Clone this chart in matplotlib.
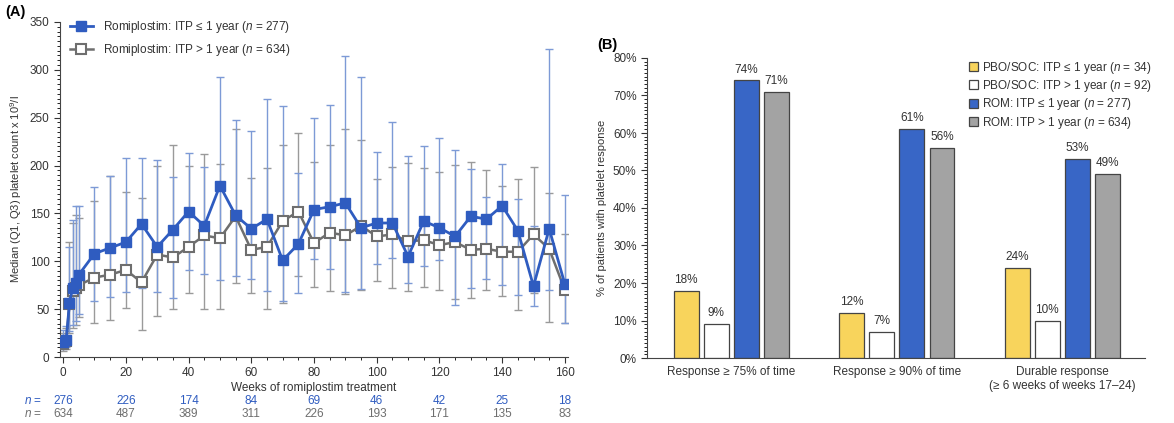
import matplotlib
matplotlib.use("Agg")
import matplotlib.pyplot as plt
import numpy as np
from matplotlib.ticker import MultipleLocator, PercentFormatter
from matplotlib.transforms import blended_transform_factory

# --- panel A: median platelet count over time ---
weeks = [0, 1, 2, 3, 4, 5, 10, 15, 20, 25, 30, 35, 40, 45, 50, 55, 60, 65, 70,
         75, 80, 85, 90, 95, 100, 105, 110, 115, 120, 125, 130, 135, 140, 145,
         150, 155, 160]

short_med = [16, 18, 56, 72, 77, 86, 108, 114, 120, 139, 115, 133, 152, 137, 179,
             148, 134, 144, 101, 118, 154, 157, 161, 135, 140, 140, 105, 142, 135,
             126, 147, 144, 158, 132, 74, 134, 76]
short_q1 = [8, 10, 27, 33, 38, 45, 58, 63, 68, 72, 68, 62, 91, 87, 80, 85, 81, 69,
            58, 67, 102, 92, 68, 71, 97, 103, 77, 95, 101, 54, 72, 81, 75, 65, 53,
            70, 36]
short_q3 = [28, 32, 115, 143, 158, 158, 178, 189, 208, 208, 206, 188, 213, 198, 293,
            248, 236, 270, 262, 192, 250, 263, 314, 293, 214, 245, 210, 220, 229,
            216, 196, 167, 202, 165, 137, 322, 169]

long_med = [14, 17, 55, 69, 72, 75, 83, 86, 91, 78, 107, 104, 115, 127, 124, 147,
            112, 115, 142, 152, 119, 130, 127, 137, 126, 128, 121, 122, 117, 120,
            112, 113, 110, 110, 128, 113, 70]
long_q1 = [6, 8, 25, 30, 33, 42, 36, 39, 51, 28, 43, 50, 67, 50, 50, 77, 67, 50, 56,
           85, 73, 69, 66, 70, 79, 72, 69, 73, 70, 61, 62, 70, 64, 49, 67, 37, 36]
long_q3 = [25, 30, 120, 140, 148, 145, 163, 189, 172, 166, 200, 222, 200, 212, 202,
           238, 187, 197, 221, 234, 204, 221, 238, 227, 186, 198, 203, 197, 193,
           201, 204, 195, 179, 186, 199, 171, 128]

n_weeks = [0, 20, 40, 60, 80, 100, 120, 140, 160]
n_short = [276, 226, 174, 84, 69, 46, 42, 25, 18]
n_long = [634, 487, 389, 311, 226, 193, 171, 135, 83]

# --- panel B: response rates ---
categories = ["Response \u2265 75% of time", "Response \u2265 90% of time",
              "Durable response\n(\u2265 6 weeks of weeks 17\u201324)"]
groups = ["PBO/SOC: ITP \u2264 1 year ($\\it{n}$ = 34)",
          "PBO/SOC: ITP > 1 year ($\\it{n}$ = 92)",
          "ROM: ITP \u2264 1 year ($\\it{n}$ = 277)",
          "ROM: ITP > 1 year ($\\it{n}$ = 634)"]
pbo_short = [18, 12, 24]
pbo_long = [9, 7, 10]
rom_short = [74, 61, 53]
rom_long = [71, 56, 49]

BLUE = "#2f5cc0"
BLUE_ERR = "#7d9ad6"
GREY = "#6e6e6e"
GREY_ERR = "#9a9a9a"
TXT = "#333333"

plt.rcParams["font.family"] = ["Liberation Sans", "DejaVu Sans"]
plt.rcParams["mathtext.fontset"] = "custom"
plt.rcParams["mathtext.it"] = "Liberation Sans:italic"
plt.rcParams["mathtext.rm"] = "Liberation Sans"
plt.rcParams["font.size"] = 8.5

fig = plt.figure(figsize=(11.74, 4.23), dpi=100)

# ---------------- (A) ----------------
ax = fig.add_axes([60 / 1174, 1 - 357 / 423, 508 / 1174, 335 / 423])
w = np.array(weeks)
for med, q1, q3, col in [(long_med, long_q1, long_q3, GREY_ERR),
                         (short_med, short_q1, short_q3, BLUE_ERR)]:
    med = np.array(med)
    yerr = [med - np.array(q1), np.array(q3) - med]
    ax.errorbar(w, med, yerr=yerr, fmt="none", ecolor=col, elinewidth=1.0,
                capsize=3, capthick=1.0, zorder=2)

ax.plot(w, long_med, "-s", color=GREY, lw=1.8, ms=7, mfc="white",
        mec=GREY, mew=1.5, zorder=3,
        label="Romiplostim: ITP > 1 year ($\\it{n}$ = 634)")
ax.plot(w, short_med, "-s", color=BLUE, lw=2.0, ms=7, mfc=BLUE, mec=BLUE,
        zorder=4, label="Romiplostim: ITP \u2264 1 year ($\\it{n}$ = 277)")

ax.set_xlim(-1, 161)
ax.set_ylim(0, 350)
ax.xaxis.set_major_locator(MultipleLocator(20))
ax.xaxis.set_minor_locator(MultipleLocator(5))
ax.yaxis.set_major_locator(MultipleLocator(50))
ax.yaxis.set_minor_locator(MultipleLocator(5))
ax.tick_params(colors=TXT, labelsize=8.5, length=4)
ax.tick_params(which="minor", length=2)
for s in ["top", "right"]:
    ax.spines[s].set_visible(False)
ax.spines["left"].set_color("#444444")
ax.spines["bottom"].set_color("#444444")
ax.set_xlabel("Weeks of romiplostim treatment", color=TXT, fontsize=8.5, labelpad=2)
ax.set_ylabel("Median (Q1, Q3) platelet count x 10$^9$/l", color=TXT, fontsize=8)

h, l = ax.get_legend_handles_labels()
ax.legend(h[::-1], l[::-1], loc="upper left", bbox_to_anchor=(0.005, 1.03),
          frameon=False, fontsize=8.5, handlelength=2.0, labelcolor=TXT,
          borderaxespad=0.2, labelspacing=0.6)

tr = blended_transform_factory(ax.transData, ax.transAxes)
ax.text(-0.07, -0.131, "$\\it{n}$ =", transform=ax.transAxes, color=BLUE,
        fontsize=8.5, va="center")
ax.text(-0.07, -0.170, "$\\it{n}$ =", transform=ax.transAxes, color=GREY,
        fontsize=8.5, va="center")
for x, a, b in zip(n_weeks, n_short, n_long):
    ax.text(x, -0.131, str(a), transform=tr, color=BLUE, ha="center",
            va="center", fontsize=8.5)
    ax.text(x, -0.170, str(b), transform=tr, color=GREY, ha="center",
            va="center", fontsize=8.5)

fig.text(5 / 1174, 1 - 12 / 423, "(A)", fontsize=10.5, fontweight="bold",
         va="center")

# ---------------- (B) ----------------
bx = fig.add_axes([647 / 1174, 1 - 358 / 423, 498 / 1174, 300 / 423])
xc = np.arange(len(categories))
bw = 0.15
step = 0.182
series = [pbo_short, pbo_long, rom_short, rom_long]
colors = ["#f8d45c", "white", "#3866c6", "#a3a3a3"]
for i, (vals, c, lab) in enumerate(zip(series, colors, groups)):
    pos = xc + (i - 1.5) * step
    bx.bar(pos, vals, width=bw, color=c, edgecolor="#444444",
           linewidth=0.9, label=lab, zorder=2)
    for p, v in zip(pos, vals):
        bx.text(p, v + 1.3, f"{v}%", ha="center", va="bottom", fontsize=8.5,
                color=TXT)

bx.set_xlim(-0.51, 2.5)
bx.set_ylim(0, 80)
bx.yaxis.set_major_locator(MultipleLocator(10))
bx.yaxis.set_minor_locator(MultipleLocator(1))
bx.yaxis.set_major_formatter(PercentFormatter(decimals=0))
bx.set_xticks(xc)
bx.set_xticklabels(categories, color=TXT, fontsize=8.5)
bx.tick_params(axis="x", length=0, pad=6)
bx.tick_params(axis="y", colors=TXT, labelsize=8.5, length=4)
bx.tick_params(axis="y", which="minor", length=2)
for s in ["top", "right"]:
    bx.spines[s].set_visible(False)
bx.spines["left"].set_color("#444444")
bx.spines["bottom"].set_color("#444444")
bx.set_ylabel("% of patients with platelet response", color=TXT, fontsize=8)
bx.legend(loc="upper right", bbox_to_anchor=(1.035, 1.03), frameon=False,
          fontsize=8.5, handlelength=0.8, handleheight=0.8, handletextpad=0.3,
          labelspacing=0.2, labelcolor=TXT)

fig.text(597 / 1174, 1 - 45 / 423, "(B)", fontsize=10.5, fontweight="bold",
         va="center")

fig.savefig("out.png", dpi=100)
